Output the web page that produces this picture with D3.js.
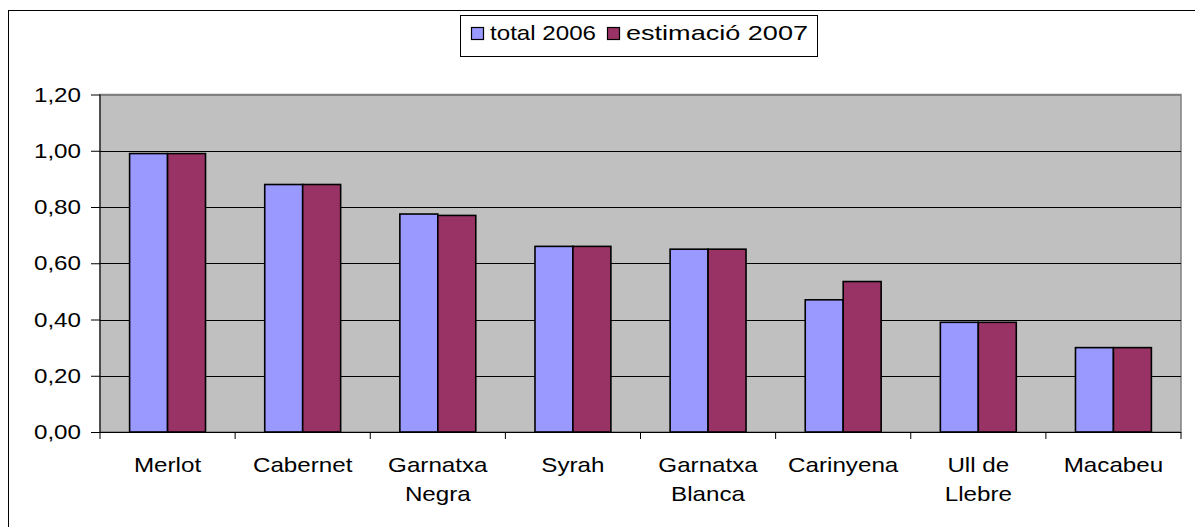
<!DOCTYPE html>
<html><head><meta charset="utf-8">
<script src="https://cdn.jsdelivr.net/npm/d3@7"></script>
<style>body{margin:0;background:#fff}svg{display:block;font-family:"Liberation Sans",Arial,sans-serif}</style>
</head><body><svg id="c" width="1195" height="527"></svg>
<script>
const categories = ["Merlot","Cabernet","Garnatxa\nNegra","Syrah","Garnatxa\nBlanca","Carinyena","Ull de\nLlebre","Macabeu"];
const seriesNames = ["total 2006","estimació 2007"];
const total2006 = [0.99,0.88,0.775,0.66,0.65,0.47,0.39,0.30];
const estimacio2007 = [0.99,0.88,0.77,0.66,0.65,0.535,0.39,0.30];
const yTicks = [0,0.2,0.4,0.6,0.8,1.0,1.2];
const colors = ["#9999FF","#993366"];

const svg = d3.select("#c");
const L=100,R=1181,T=94.5,B=432;
const FS=20.5, SX=1.18;
function stext(parent, x, y, str, anchor){
  return parent.append("g").attr("transform",`translate(${x},${y}) scale(${SX},1)`)
    .append("text").attr("text-anchor",anchor||"start").attr("font-size",FS).attr("fill","#000").text(str);
}
svg.append("rect").attr("x",8.5).attr("y",10.5).attr("width",1195).attr("height",527).attr("fill","#fff").attr("stroke","#000").attr("stroke-width",1);

const x0 = d3.scaleBand().domain(categories).range([L,R]).padding(0);
const x1 = d3.scaleBand().domain(seriesNames).range([0,x0.bandwidth()]).paddingInner(0).paddingOuter(0.78);
const y = d3.scaleLinear().domain([0,1.2]).range([B,T]);
const fmt = v => d3.format(".2f")(v).replace(".",",");

svg.append("rect").attr("x",L).attr("y",T).attr("width",R-L).attr("height",B-T).attr("fill","#C0C0C0").attr("stroke","#808080").attr("stroke-width",1.5);
svg.append("g").selectAll("line").data(yTicks.filter(d=>d>0)).join("line")
  .attr("x1",L).attr("x2",R).attr("y1",d=>Math.round(y(d))+0.5).attr("y2",d=>Math.round(y(d))+0.5)
  .attr("stroke",d=>d===1.2?"#808080":"#000").attr("stroke-width",1);

const data = categories.map((c,i)=>({c, v:[total2006[i],estimacio2007[i]]}));
const g = svg.append("g");
g.selectAll("g").data(data).join("g").attr("transform",d=>`translate(${x0(d.c)},0)`)
 .selectAll("rect").data(d=>d.v.map((v,k)=>({k,v}))).join("rect")
 .attr("x",d=>x1(seriesNames[d.k])).attr("width",x1.bandwidth())
 .attr("y",d=>y(d.v)).attr("height",d=>B-y(d.v))
 .attr("fill",d=>colors[d.k]).attr("stroke","#000").attr("stroke-width",1.6);

// y axis
const ya = svg.append("g").attr("transform",`translate(${L},0)`)
  .call(d3.axisLeft(y).tickValues(yTicks).tickFormat("").tickSize(9));
ya.select(".domain").attr("stroke","#000").attr("d",`M0,${T}V${B}`);
ya.selectAll(".tick line").attr("stroke","#000");
yTicks.forEach(v=>stext(svg, 81, y(v)+7, fmt(v), "end"));
// x axis
const xa = svg.append("g").attr("transform",`translate(0,${B})`);
xa.append("line").attr("x1",L).attr("x2",R).attr("y1",0.5).attr("y2",0.5).attr("stroke","#000");
const bounds = categories.map(c=>x0(c)).concat([R]);
xa.selectAll("line.t").data(bounds).join("line").attr("class","t")
  .attr("x1",d=>d).attr("x2",d=>d).attr("y1",0).attr("y2",7).attr("stroke","#000");
categories.forEach(c=>{
  c.split("\n").forEach((s,i)=>stext(xa, x0(c)+x0.bandwidth()/2, 40+i*29, s, "middle"));
});

// legend
const lg = svg.append("g");
lg.append("rect").attr("x",460.5).attr("y",15.5).attr("width",357).attr("height",41).attr("fill","#fff").attr("stroke","#000");
const items=[{x:471,tx:490,w:106},{x:607,tx:626,w:182}];
seriesNames.forEach((s,i)=>{
  lg.append("rect").attr("x",items[i].x+0.5).attr("y",27.5).attr("width",12).attr("height",12).attr("fill",colors[i]).attr("stroke","#000").attr("stroke-width",1.2);
  stext(lg, items[i].tx, 40, s, "start").attr("textLength",items[i].w/SX).attr("lengthAdjust","spacingAndGlyphs");
});
</script></body></html>
